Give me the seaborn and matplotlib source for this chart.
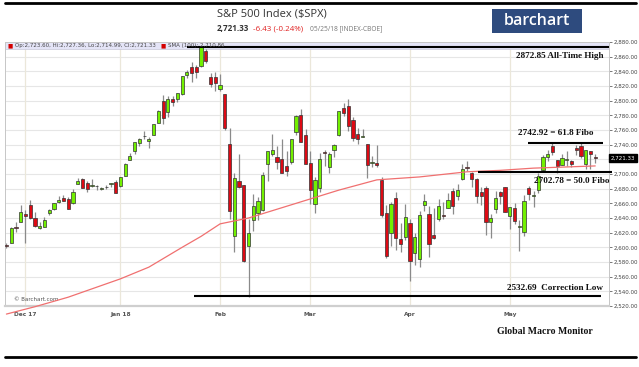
import numpy as np
import pandas as pd
import seaborn as sns
import matplotlib
matplotlib.use("Agg")
import matplotlib.pyplot as plt
from matplotlib.patches import Rectangle

# daily S&P 500 candles, 27 Nov 2017 .. 25 May 2018
holidays = ["2017-12-25", "2018-01-01", "2018-01-15", "2018-02-19", "2018-03-30"]
dates = pd.bdate_range("2017-11-27", "2018-05-25", freq="C", holidays=holidays)

opens = [2602.66, 2605.94, 2627.82, 2633.93, 2645.10, 2657.19, 2639.78, 2626.24, 2628.38, 2646.21,
         2652.19, 2661.73, 2667.59, 2665.87, 2660.63, 2685.92, 2692.71, 2688.18, 2683.02, 2684.22,
         2679.09, 2682.10, 2686.10, 2689.15, 2683.73, 2697.85, 2719.31, 2731.33, 2742.67, 2751.15,
         2745.55, 2752.97, 2770.18, 2798.96, 2784.99, 2802.40, 2802.60, 2809.16, 2835.05, 2845.42,
         2846.24, 2847.48, 2867.23, 2832.74, 2832.41, 2816.45, 2808.92, 2741.06, 2614.78, 2690.95,
         2685.01, 2601.78, 2636.75, 2646.27, 2651.21, 2713.46, 2727.14, 2722.99, 2720.53, 2710.42,
         2715.80, 2757.37, 2780.45, 2753.78, 2715.22, 2658.89, 2681.06, 2730.18, 2710.18, 2732.75,
         2752.91, 2790.54, 2792.31, 2774.06, 2754.27, 2750.57, 2741.38, 2715.05, 2714.99, 2691.36,
         2646.71, 2619.35, 2667.57, 2611.30, 2614.41, 2633.45, 2592.17, 2584.04, 2657.36, 2645.82,
         2617.18, 2638.41, 2643.89, 2653.83, 2676.90, 2670.10, 2692.74, 2710.11, 2701.16, 2692.56,
         2675.40, 2680.80, 2634.92, 2651.65, 2675.47, 2682.51, 2642.96, 2654.24, 2628.08, 2621.45,
         2680.34, 2670.26, 2678.12, 2705.02, 2722.70, 2738.47, 2718.59, 2712.62, 2719.71, 2717.35,
         2735.39, 2738.34, 2713.98, 2730.94, 2723.60]
highs = [2606.41, 2627.69, 2634.89, 2657.74, 2650.62, 2665.19, 2648.72, 2634.41, 2640.99, 2651.65,
         2660.33, 2669.72, 2671.88, 2668.09, 2679.63, 2694.97, 2694.44, 2691.01, 2692.64, 2685.35,
         2682.74, 2685.64, 2687.66, 2692.12, 2695.89, 2714.37, 2729.29, 2743.45, 2748.51, 2759.14,
         2750.80, 2767.56, 2787.85, 2807.54, 2807.04, 2805.83, 2810.33, 2833.03, 2842.24, 2852.97,
         2848.56, 2872.87, 2870.62, 2837.75, 2839.26, 2835.96, 2808.92, 2763.39, 2701.04, 2727.67,
         2685.27, 2638.67, 2672.61, 2668.84, 2702.10, 2731.51, 2754.42, 2737.60, 2747.75, 2731.26,
         2747.76, 2780.64, 2789.15, 2761.52, 2730.89, 2696.25, 2728.09, 2732.08, 2730.60, 2740.45,
         2786.57, 2796.98, 2801.90, 2777.11, 2763.03, 2761.85, 2741.38, 2724.22, 2739.14, 2695.68,
         2657.67, 2661.36, 2674.78, 2632.65, 2659.07, 2638.30, 2619.14, 2649.86, 2672.08, 2656.88,
         2653.55, 2665.45, 2661.43, 2674.72, 2680.26, 2686.49, 2713.34, 2717.49, 2702.84, 2693.94,
         2682.86, 2683.55, 2645.30, 2676.48, 2677.35, 2682.87, 2655.27, 2660.87, 2637.14, 2670.93,
         2683.35, 2676.34, 2701.27, 2726.11, 2732.86, 2742.10, 2718.59, 2727.76, 2731.96, 2719.50,
         2739.19, 2742.24, 2733.33, 2731.97, 2727.36]
lows = [2598.87, 2605.44, 2620.32, 2633.93, 2605.52, 2639.03, 2627.73, 2624.75, 2628.38, 2644.10,
        2651.47, 2659.78, 2662.85, 2652.01, 2659.14, 2685.92, 2680.74, 2676.11, 2682.40, 2678.13,
        2677.96, 2678.91, 2682.69, 2673.61, 2682.36, 2697.77, 2719.07, 2727.92, 2737.60, 2747.86,
        2736.06, 2752.78, 2769.64, 2768.64, 2778.38, 2792.56, 2798.08, 2808.12, 2830.59, 2824.81,
        2830.94, 2846.18, 2851.48, 2818.27, 2813.04, 2812.70, 2759.97, 2638.17, 2593.07, 2681.33,
        2580.56, 2532.69, 2622.45, 2637.08, 2648.87, 2689.82, 2725.11, 2706.76, 2701.29, 2697.77,
        2713.74, 2753.78, 2744.22, 2713.54, 2659.65, 2647.32, 2675.75, 2711.26, 2701.74, 2722.65,
        2751.54, 2779.26, 2758.68, 2744.38, 2741.47, 2749.97, 2694.59, 2710.05, 2709.79, 2641.59,
        2585.89, 2601.81, 2596.12, 2593.06, 2609.72, 2553.80, 2575.49, 2573.61, 2649.58, 2586.27,
        2610.79, 2635.78, 2639.25, 2653.83, 2645.05, 2665.16, 2692.05, 2703.63, 2681.90, 2660.61,
        2657.99, 2617.32, 2612.67, 2647.16, 2659.01, 2648.04, 2625.41, 2631.70, 2594.62, 2615.32,
        2664.70, 2655.20, 2674.14, 2704.54, 2717.45, 2725.47, 2701.91, 2712.17, 2711.36, 2709.18,
        2725.70, 2721.88, 2707.38, 2707.38, 2714.99]
closes = [2601.42, 2627.04, 2626.07, 2647.58, 2642.22, 2639.44, 2629.57, 2629.27, 2636.98, 2651.50,
          2659.99, 2664.11, 2662.85, 2652.01, 2675.81, 2690.16, 2681.47, 2679.25, 2684.57, 2683.34,
          2680.50, 2682.62, 2687.54, 2673.61, 2695.81, 2713.06, 2723.99, 2743.15, 2747.71, 2751.29,
          2748.23, 2767.56, 2786.24, 2776.42, 2802.56, 2798.03, 2810.30, 2832.97, 2839.13, 2837.54,
          2839.25, 2872.87, 2853.53, 2822.43, 2823.81, 2821.98, 2762.13, 2648.94, 2695.14, 2681.66,
          2581.00, 2619.55, 2656.00, 2662.94, 2698.63, 2731.20, 2732.22, 2716.26, 2701.33, 2703.96,
          2747.30, 2779.60, 2744.28, 2713.83, 2677.67, 2691.25, 2720.94, 2728.12, 2726.80, 2738.97,
          2786.57, 2783.02, 2765.31, 2749.48, 2747.33, 2752.01, 2712.92, 2716.94, 2711.93, 2643.69,
          2588.26, 2658.55, 2612.62, 2605.00, 2640.87, 2581.88, 2614.45, 2644.69, 2662.84, 2604.47,
          2613.16, 2656.87, 2642.19, 2663.99, 2656.30, 2677.84, 2706.39, 2708.64, 2693.13, 2670.14,
          2670.29, 2634.56, 2639.40, 2666.94, 2669.91, 2648.05, 2654.80, 2635.67, 2629.73, 2663.42,
          2672.63, 2671.92, 2697.79, 2723.07, 2727.72, 2730.13, 2711.45, 2722.46, 2720.13, 2712.97,
          2733.01, 2724.44, 2733.29, 2727.76, 2721.33]

# SMA(100) (bar index, value)
sma_idx = [0, 6, 13, 24, 30, 37, 41, 45, 51, 58, 64, 70, 78, 87, 97, 104, 111, 124]
sma_val = [2509, 2519, 2532, 2557, 2573, 2600, 2615, 2632, 2640, 2654, 2666, 2678, 2692, 2696,
           2703, 2705, 2708, 2711]

month_labels = ["Dec 17", "Jan 18", "Feb", "Mar", "Apr", "May"]
levels = {"ath": 2872.85, "fib618": 2742.92, "fib50": 2702.78, "low": 2532.69}

df = pd.DataFrame({"date": dates, "open": opens, "high": highs, "low": lows, "close": closes})
df["i"] = np.arange(len(df))
df["up"] = df["close"] >= df["open"]

W, H = 639, 367
sns.set_style("white")
plt.rcParams["font.family"] = ["DejaVu Sans"]

fig = plt.figure(figsize=(W / 100, H / 100), dpi=100)


def fx(x):
    return x / W


def fy(y):
    return 1 - y / H


ax = fig.add_axes([fx(5), fy(306), fx(609) - fx(5), fy(42) - fy(306)])

ax.set_ylim(2520, 2880)
ax.set_xlim(-0.3, 126.9)

# grid
for v in np.arange(2520, 2881, 20):
    ax.axhline(v, color="#e6e6e6", lw=0.8, zorder=0)
first = df.groupby(df["date"].dt.to_period("M"))["i"].min()
month_pos = [p for p in first.values if p > 0]
for p in month_pos:
    ax.axvline(p, color="#ebe7da", lw=0.9, zorder=0)

# candles
ax.vlines(df["i"], df["low"], df["high"], color="#8a8a8a", lw=0.9, zorder=2)
body_lo = np.minimum(df["open"], df["close"])
body_h = np.maximum(np.abs(df["close"] - df["open"]), 0.7)
cols = np.where(df["up"], "#72f000", "#dd0a14")
ax.bar(df["i"], body_h, bottom=body_lo, width=0.68, color=cols,
       edgecolor="#333333", linewidth=0.5, zorder=3)

# SMA 100
sns.lineplot(x=sma_idx, y=sma_val, ax=ax, color="#f07070", lw=0.9, zorder=4,
             clip_on=False)

# legend band
ax.add_patch(Rectangle((0, 1 - 7 / 264), 1, 7 / 264, transform=ax.transAxes,
                       facecolor="#e4e4f7", edgecolor="#c8c8d8", lw=0.5, zorder=1))
ax.text(0.004, 1 - 3.5 / 264, "\u25a0", transform=ax.transAxes, fontsize=4, color="#d40000",
        va="center", zorder=6)
ax.text(0.016, 1 - 3.5 / 264, "Op:2,723.60, Hi:2,727.36, Lo:2,714.99, Cl:2,721.33",
        transform=ax.transAxes, fontsize=4, color="#444444", va="center", zorder=6)
ax.text(0.258, 1 - 3.5 / 264, "\u25a0", transform=ax.transAxes, fontsize=4, color="#d40000",
        va="center", zorder=6)
ax.text(0.270, 1 - 3.5 / 264, "SMA (100): 2,710.86", transform=ax.transAxes, fontsize=4,
        color="#444444", va="center", zorder=6)

# annotation lines
serif = dict(family="Liberation Serif", weight="bold", fontsize=6.6, color="#111111")
ax.hlines(levels["ath"], 38, 126.9, color="black", lw=1.5, zorder=5)
ax.hlines(levels["fib618"], 109.9, 125.6, color="black", lw=1.5, zorder=5)
ax.hlines(levels["fib50"], 99.4, 127.6, color="black", lw=1.5, zorder=5, clip_on=False)
ax.hlines(2533.5, 39.5, 125.2, color="black", lw=1.5, zorder=5)
ax.text(125.8, 2861, "2872.85 All-Time High", ha="right", va="center", **serif)
ax.text(123.6, 2756, "2742.92 = 61.8 Fibo", ha="right", va="center", **serif)
ax.text(127.0, 2691, "2702.78 = 50.0 Fibo", ha="right", va="center", **serif, clip_on=False)
ax.text(125.6, 2544, "2532.69  Correction Low", ha="right", va="center", **serif)

ax.text(1.5, 2529, "\u00a9 Barchart.com", fontsize=4, color="#555555", va="center")

# axes styling; the 2,720 label sits under the last-price tag
ax.yaxis.tick_right()
yt = np.arange(2520, 2881, 20)
ax.set_yticks(yt)
ax.set_yticklabels(["" if v == 2720 else f"{v:,.2f}" for v in yt])
ax.tick_params(axis="y", labelsize=4, colors="#444444", length=2, width=0.5, pad=1)
ax.set_xticks(month_pos)
ax.set_xticklabels(month_labels, fontsize=4.2, color="#333333", weight="bold")
ax.tick_params(axis="x", length=2, width=0.5, pad=2, colors="#555555")
for s in ["left", "right", "top"]:
    ax.spines[s].set_color("#c6c6c6")
    ax.spines[s].set_linewidth(0.7)
ax.spines["bottom"].set_color("#cfcfcf")
ax.spines["bottom"].set_linewidth(1.6)
ax.set_xlabel("")
ax.set_ylabel("")

# last price tag
ax.text(1.003, (closes[-1] - 2520) / 360, f"{closes[-1]:,.2f}", transform=ax.transAxes,
        fontsize=4, color="white", va="center", ha="left", zorder=7,
        bbox=dict(boxstyle="square,pad=0.25", facecolor="black", edgecolor="black"))

# header
fig.lines.append(plt.Line2D([fx(5), fx(636)], [fy(3), fy(3)], color="black", lw=2,
                            transform=fig.transFigure))
fig.lines.append(plt.Line2D([fx(5), fx(636)], [fy(357), fy(357)], color="black", lw=2,
                            transform=fig.transFigure))
fig.text(fx(217), fy(14), "S&P 500 Index ($SPX)", fontsize=8, color="#333333",
         family="Open Sans", va="center", ha="left")
fig.text(fx(217), fy(29), "2,721.33", fontsize=5.8, color="#333333", weight="bold",
         family="Open Sans", va="center")
fig.text(fx(253), fy(29), "-6.43 (-0.24%)", fontsize=5.8, color="#e02020",
         family="Open Sans", va="center")
fig.text(fx(310), fy(29), "05/25/18 [INDEX-CBOE]", fontsize=4.8, color="#777777",
         family="Open Sans", va="center")
fig.patches.append(Rectangle((fx(492), fy(33)), fx(582) - fx(492), fy(9) - fy(33),
                             transform=fig.transFigure, facecolor="#2e4b7e",
                             edgecolor="none"))
fig.text(fx(537), fy(21), "barchart", fontsize=11.5, color="white", family="Open Sans",
         weight="semibold", ha="center", va="center")
fig.text(fx(545), fy(332), "Global Macro Monitor", fontsize=7, ha="center", va="center",
         family="Liberation Serif", weight="bold", color="#111111")

fig.savefig("out.png", dpi=100)
